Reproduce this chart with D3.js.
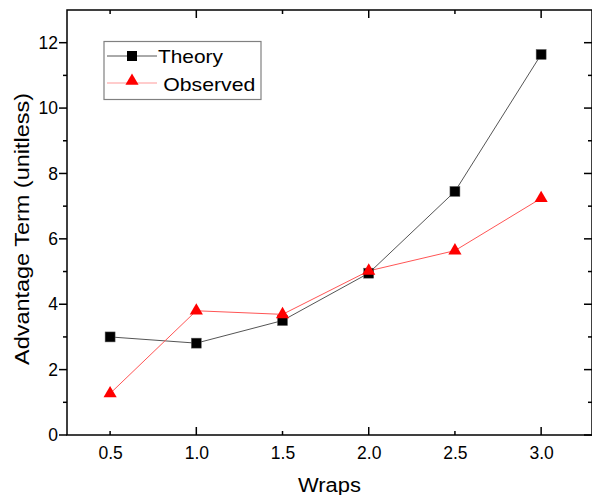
<!DOCTYPE html>
<html><head><meta charset="utf-8">
<script src="https://cdn.jsdelivr.net/npm/d3@7"></script>
<style>body{margin:0;background:#fff}svg{display:block;font-family:Arial,"Liberation Sans",sans-serif}</style>
</head><body><svg id="c" width="592" height="495"></svg>
<script>
const wraps = [0.5, 1.0, 1.5, 2.0, 2.5, 3.0];
const theory = [3.0, 2.81, 3.50, 4.95, 7.45, 11.64];
const observed = [1.27, 3.80, 3.69, 5.02, 5.64, 7.24];
const xTicks = [0.5, 1.0, 1.5, 2.0, 2.5, 3.0];
const yMajor = [0, 2, 4, 6, 8, 10, 12];
const yMinor = [1, 3, 5, 7, 9, 11];
const xMajor = [1.0, 2.0, 3.0];
const xMinor = [0.5, 1.5, 2.5];

const svg = d3.select("#c");
const FF = "Arial, Liberation Sans, sans-serif";
const L = 67, R = 592, T = 10, B = 435;
const x = d3.scaleLinear().domain([0.25, 3.295]).range([L, R]);
const y = d3.scaleLinear().domain([0, 13]).range([B, T]);

// frame
svg.append("rect").attr("x", L).attr("y", T).attr("width", R - L).attr("height", B - T)
  .attr("fill", "none").attr("stroke", "#000").attr("stroke-width", 1.5);

// bottom axis labels
const bx = svg.append("g").attr("transform", `translate(0,${B})`)
  .call(d3.axisBottom(x).tickValues(xTicks).tickFormat(d3.format(".1f")).tickSize(0).tickPadding(11.5));
bx.select(".domain").remove();
bx.attr("font-size", null).attr("font-family", null);
bx.selectAll("text").attr("font-size", 17.5).attr("font-family", FF).attr("fill", "#000");
const tk = svg.append("g").attr("stroke", "#000").attr("stroke-width", 1.5);
xMajor.forEach(v => {
  tk.append("line").attr("x1", x(v)).attr("x2", x(v)).attr("y1", B).attr("y2", B - 8);
  tk.append("line").attr("x1", x(v)).attr("x2", x(v)).attr("y1", T).attr("y2", T + 8);
});
xMinor.forEach(v => {
  tk.append("line").attr("x1", x(v)).attr("x2", x(v)).attr("y1", B).attr("y2", B - 4);
  tk.append("line").attr("x1", x(v)).attr("x2", x(v)).attr("y1", T).attr("y2", T + 4);
});

// left axis labels
const ly = svg.append("g").attr("transform", `translate(${L},0)`)
  .call(d3.axisLeft(y).tickValues(yMajor).tickSize(0).tickPadding(9));
ly.select(".domain").remove();
ly.attr("font-size", null).attr("font-family", null);
ly.selectAll("text").attr("font-size", 17.5).attr("font-family", FF).attr("fill", "#000");
yMajor.forEach(v => {
  tk.append("line").attr("x1", L).attr("x2", L - 8).attr("y1", y(v)).attr("y2", y(v));
  tk.append("line").attr("x1", R).attr("x2", R - 8).attr("y1", y(v)).attr("y2", y(v));
});
yMinor.forEach(v => {
  tk.append("line").attr("x1", L).attr("x2", L - 4).attr("y1", y(v)).attr("y2", y(v));
  tk.append("line").attr("x1", R).attr("x2", R - 4).attr("y1", y(v)).attr("y2", y(v));
});

// titles
svg.append("text").attr("x", 298).attr("y", 492)
  .attr("font-size", 20).attr("textLength", 63).attr("lengthAdjust", "spacingAndGlyphs").text("Wraps");
svg.append("text").attr("transform", `translate(29,365) rotate(-90)`)
  .attr("font-size", 20).attr("textLength", 272).attr("lengthAdjust", "spacingAndGlyphs")
  .text("Advantage Term (unitless)");

// lines
const line = d3.line();
const tPts = wraps.map((w, i) => [x(w), y(theory[i])]);
const oPts = wraps.map((w, i) => [x(w), y(observed[i])]);
svg.append("path").attr("d", line(tPts)).attr("fill", "none").attr("stroke", "#555").attr("stroke-width", 1);
svg.append("path").attr("d", line(oPts)).attr("fill", "none").attr("stroke", "#ff5555").attr("stroke-width", 1);

const tri = d3.symbol().type(d3.symbolTriangle).size(75);
svg.selectAll(".sq").data(tPts).enter().append("rect")
  .attr("x", d => d[0] - 5).attr("y", d => d[1] - 5).attr("width", 10).attr("height", 10)
  .attr("fill", "#000").attr("stroke", "#666").attr("stroke-width", 0.5);
svg.selectAll(".tr").data(oPts).enter().append("path")
  .attr("d", tri).attr("transform", d => `translate(${d[0]},${d[1]})`).attr("fill", "#ff0000");

// legend
const lg = svg.append("g");
lg.append("rect").attr("x", 104).attr("y", 41.5).attr("width", 157).attr("height", 58)
  .attr("fill", "#fff").attr("stroke", "#808080").attr("stroke-width", 1.2);
lg.append("line").attr("x1", 107).attr("x2", 157).attr("y1", 56).attr("y2", 56).attr("stroke", "#555");
lg.append("rect").attr("x", 127).attr("y", 51).attr("width", 10).attr("height", 10).attr("fill", "#000");
lg.append("text").attr("x", 158).attr("y", 63.3).attr("font-size", 19)
  .attr("textLength", 65).attr("lengthAdjust", "spacingAndGlyphs").text("Theory");
lg.append("line").attr("x1", 107).attr("x2", 157).attr("y1", 83).attr("y2", 83).attr("stroke", "#ff9999");
lg.append("path").attr("d", tri).attr("transform", "translate(132,81)").attr("fill", "#ff0000");
lg.append("text").attr("x", 163.3).attr("y", 91).attr("font-size", 19)
  .attr("textLength", 92).attr("lengthAdjust", "spacingAndGlyphs").text("Observed");
</script></body></html>
